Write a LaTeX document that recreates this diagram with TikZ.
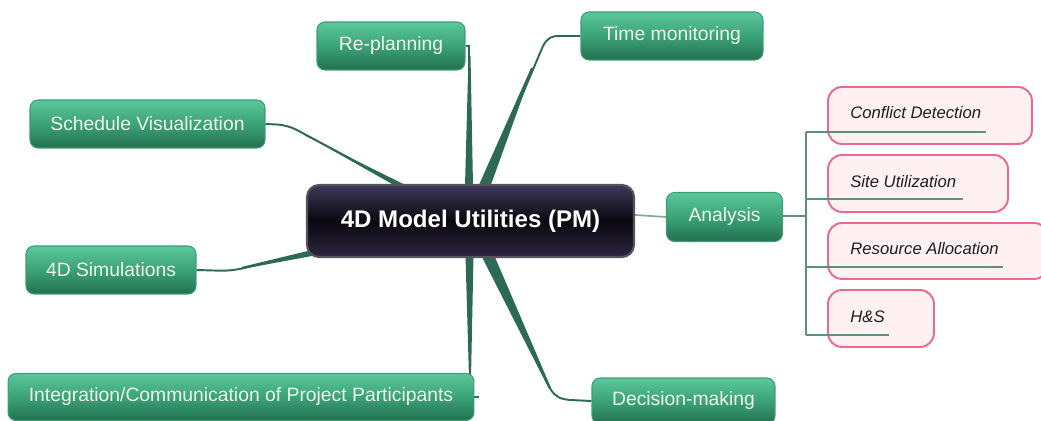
\documentclass[tikz,border=0pt]{standalone}
\usepackage{fontspec}
\setmainfont{Liberation Sans}
\usetikzlibrary{calc,backgrounds}
\definecolor{gtop}{HTML}{5BC79B}
\definecolor{gmid}{HTML}{3BA279}
\definecolor{gbot}{HTML}{22704F}
\definecolor{gedge}{HTML}{3E9C77}
\definecolor{gtext}{HTML}{F0F6E6}
\definecolor{gline}{HTML}{2D6A55}
\definecolor{ctop}{HTML}{3E3958}
\definecolor{cmid}{HTML}{0A0810}
\definecolor{cbot}{HTML}{2C2640}
\definecolor{cedge}{HTML}{55535F}
\definecolor{pfill}{HTML}{FFF1F1}
\definecolor{pedge}{HTML}{EC6A90}
\definecolor{ptext}{HTML}{1E1E1E}
\definecolor{bline}{HTML}{5F8F81}
\definecolor{aline}{HTML}{86A89B}
\tikzset{
  gbox/.style={draw=gedge, line width=0.6pt, rounded corners=0.16cm,
    top color=gtop, bottom color=gbot, middle color=gmid,
    text=gtext, font=\fontsize{11}{13}\selectfont, inner sep=0pt},
  cbox/.style={draw=cedge, line width=1.2pt, rounded corners=0.24cm,
    top color=ctop, bottom color=cbot, middle color=cmid,
    text=white, font=\bfseries\fontsize{13.7}{16}\selectfont, inner sep=0pt},
  pbox/.style={draw=pedge, line width=1.1pt, rounded corners=0.28cm,
    fill=pfill, inner sep=0pt},
  ptxt/.style={text=ptext, font=\itshape\fontsize{9.5}{11}\selectfont, inner sep=0pt, anchor=west},
  conn/.style={draw=gline, line width=1.1pt},
  wedge/.style={fill=gline},
  brk/.style={draw=bline, line width=1.1pt},
  athin/.style={draw=aline, line width=1pt}
}
\begin{document}
\begin{tikzpicture}[x=0.02cm,y=-0.02cm]
\useasboundingbox (0,0) rectangle (1041,421);

% nodes
\node[cbox, minimum width=6.54cm, minimum height=1.44cm] (c) at (470.5,221) {4D Model Utilities (PM)};
\node[gbox, minimum width=2.96cm, minimum height=0.96cm] (rp) at (391,46) {Re-planning};
\node[gbox, minimum width=3.64cm, minimum height=0.96cm] (tm) at (672,36) {Time monitoring};
\node[gbox, minimum width=4.70cm, minimum height=0.96cm] (sv) at (147.5,124) {Schedule Visualization};
\node[gbox, minimum width=2.32cm, minimum height=0.98cm] (an) at (724.5,217) {Analysis};
\node[gbox, minimum width=3.40cm, minimum height=0.96cm] (sim) at (111,270) {4D Simulations};
\node[gbox, minimum width=9.32cm, minimum height=0.94cm] (int) at (241,397) {Integration/Communication of Project Participants};
\node[gbox, minimum width=3.66cm, minimum height=0.92cm] (dm) at (683.5,401) {Decision-making};

% pink boxes
\node[pbox, minimum width=4.08cm, minimum height=1.14cm] (cd) at (930,115.5) {};
\node[pbox, minimum width=3.60cm, minimum height=1.14cm] (su) at (918,183.5) {};
\node[pbox, minimum width=4.40cm, minimum height=1.12cm] (ra) at (938,251) {};
\node[pbox, minimum width=2.12cm, minimum height=1.14cm] (hs) at (881,318.5) {};
\node[ptxt] (cdt) at (850,113) {Conflict Detection};
\node[ptxt] (sut) at (850,182) {Site Utilization};
\node[ptxt] (rat) at (850,249) {Resource Allocation};
\node[ptxt] (hst) at (850,317) {H\&S};

% bracket coordinates
\coordinate (br) at (806,216);
\coordinate (k1) at (806,132); \coordinate (e1) at (986,132);
\coordinate (k2) at (806,199); \coordinate (e2) at (963,199);
\coordinate (k3) at (806,267); \coordinate (e3) at (1003,267);
\coordinate (k4) at (806,335); \coordinate (e4) at (889,335);

\draw[brk] (an.east |- br) -- (br);
\draw[brk] (k1) -- (k4);
\draw[brk] (k1) -- (e1);
\draw[brk] (k2) -- (e2);
\draw[brk] (k3) -- (e3);
\draw[brk] (k4) -- (e4);

% helper coordinates for the integration connector
\coordinate (is) at ($(c.south)+(-0.5,0)$);
\coordinate (ie) at (is |- int.east);
\coordinate (istub) at ($(int.east)+(5,0)$);

\begin{pgfonlayer}{background}
% Re-planning
\draw[conn] (rp.east) -| ($(c.north)+(-1.5,0)$);
\fill[wedge] ($(c.north)+(-5.5,2)$) -- ($(c.north)+(2.5,2)$) -- ($(rp.east)+(5,10)$) -- ($(rp.east)+(3,10)$) -- cycle;
% Time monitoring
\draw[conn] ($(c.north)+(14,0)$) -- (543,46) .. controls (548,37) and (552,36) .. (560,36) -- (tm.west);
\fill[wedge] ($(c.north)+(8,2)$) -- ($(c.north)+(20,2)$) -- (533,68) -- (531,68) -- cycle;
% Schedule Visualization
\draw[conn, rounded corners=0.2cm] (sv.east) -- ($(sv.east)+(22,1)$) -- ($(c.north)+(-69,2)$);
\fill[wedge] ($(c.north)+(-75,2)$) -- ($(c.north)+(-63,2)$) -- ($(sv.east)+(40,12)$) -- ($(sv.east)+(38,10)$) -- cycle;
% 4D Simulations
\draw[conn, rounded corners=0.2cm] (sim.east) -- ($(sim.east)+(34,1)$) -- ($(c.west)+(6,32)$);
\fill[wedge] ($(c.west)+(6,29)$) -- ($(c.west)+(6,35)$) -- ($(sim.east)+(45,-1)$) -- ($(sim.east)+(45,-3)$) -- cycle;
% Integration
\draw[conn] (is) -- (ie) -- (istub);
\fill[wedge] ($(is)+(-4.5,-2)$) -- ($(is)+(3.5,-2)$) -- ($(is)+(1,120)$) -- ($(is)+(-1,120)$) -- cycle;
% Decision-making
\draw[conn] ($(c.south)+(17,0)$) -- (551,390) .. controls (556,397) and (560,399) .. (570,400) -- (dm.west);
\fill[wedge] ($(c.south)+(11,-2)$) -- ($(c.south)+(24,-2)$) -- (551,388) -- (549,389) -- cycle;
% Analysis
\draw[athin] ($(c.east)+(0,-6)$) -- (an.west);
\end{pgfonlayer}
\end{tikzpicture}
\end{document}
